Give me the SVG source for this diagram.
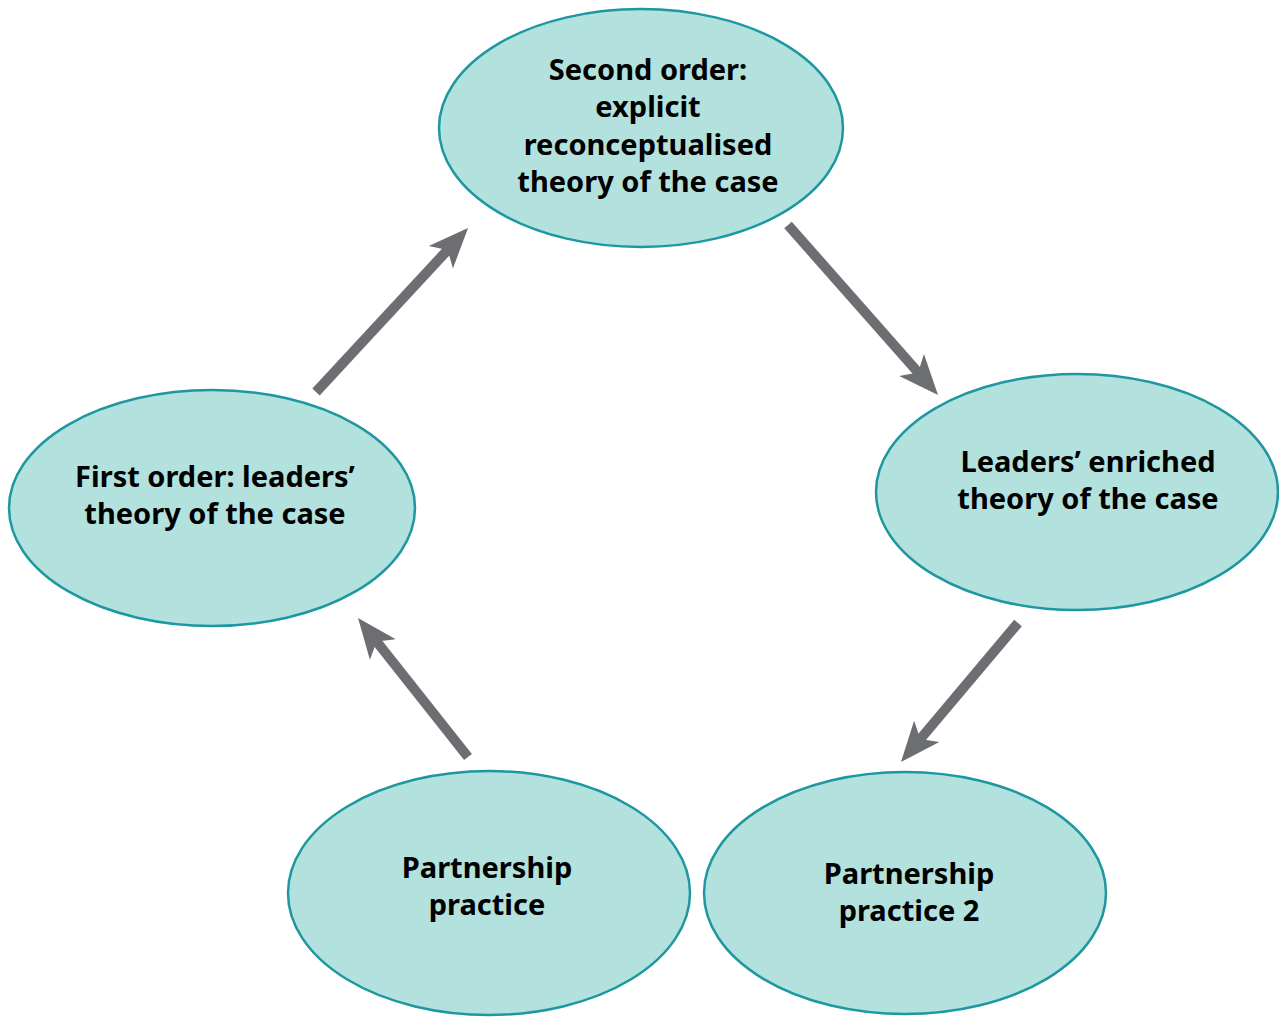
<svg xmlns="http://www.w3.org/2000/svg" width="1279" height="1017" viewBox="0 0 1279 1017">
<style>
.node{fill:#b3e1de;stroke:#1d97a0;stroke-width:2.5}
.lbl{font-family:"Noto Sans","Open Sans",sans-serif;font-weight:bold;font-size:29px;fill:#000;text-anchor:middle}
.conn{stroke:#6d6e71;stroke-width:10;fill:none;marker-end:url(#ah)}
</style>
<defs>
<marker id="ah" markerUnits="userSpaceOnUse" orient="auto" markerWidth="44" markerHeight="40" refX="12" refY="0" viewBox="0 -20 44 40">
<path d="M0,-16.5 L40,0 L0,16.5 L10,0 z" fill="#6d6e71"/>
</marker>
</defs>
<rect width="1279" height="1017" fill="#fff"/>
<g id="connectors">
<line class="conn" x1="316" y1="392" x2="449" y2="248.5"/>
<line class="conn" x1="788" y1="225" x2="919.5" y2="374"/>
<line class="conn" x1="1018" y1="623" x2="919" y2="740.6"/>
<line class="conn" x1="468" y1="757" x2="375.4" y2="640"/>
</g>
<g id="second-order">
<ellipse class="node" cx="641" cy="128" rx="202" ry="119"/>
<text class="lbl" x="648" y="80">Second order:</text>
<text class="lbl" x="648" y="117">explicit</text>
<text class="lbl" x="648" y="155">reconceptualised</text>
<text class="lbl" x="648" y="192">theory of the case</text>
</g>
<g id="first-order">
<ellipse class="node" cx="212" cy="508" rx="203" ry="118"/>
<text class="lbl" x="215" y="487">First order: leaders’</text>
<text class="lbl" x="215" y="524">theory of the case</text>
</g>
<g id="enriched">
<ellipse class="node" cx="1077" cy="492" rx="201" ry="118"/>
<text class="lbl" x="1088" y="472">Leaders’ enriched</text>
<text class="lbl" x="1088" y="509">theory of the case</text>
</g>
<g id="partnership">
<ellipse class="node" cx="489" cy="893" rx="201" ry="122"/>
<text class="lbl" x="487" y="878">Partnership</text>
<text class="lbl" x="487" y="915">practice</text>
</g>
<g id="partnership2">
<ellipse class="node" cx="905" cy="893" rx="201" ry="121"/>
<text class="lbl" x="909" y="884">Partnership</text>
<text class="lbl" x="909" y="921">practice 2</text>
</g>
</svg>
